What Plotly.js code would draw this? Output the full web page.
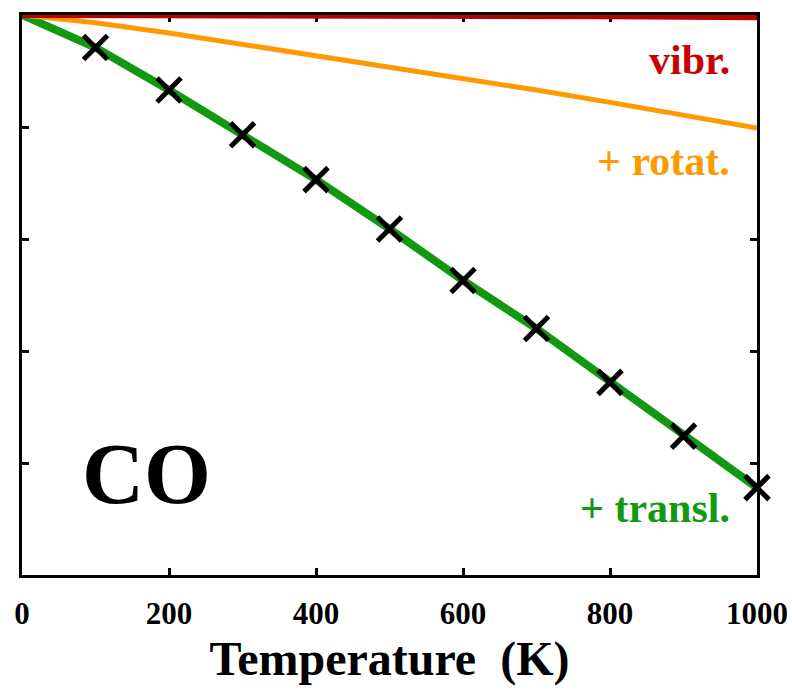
<!DOCTYPE html>
<html>
<head>
<meta charset="utf-8">
<script src="https://cdn.plot.ly/plotly-3.0.1.min.js"></script>
<style>html,body{margin:0;padding:0;background:#fff;}#chart{width:792px;height:693px;}</style>
</head>
<body>
<div id="chart"></div>
<script>
// Temperature (K)
var temps = [0, 100, 200, 300, 400, 500, 600, 700, 800, 900, 1000];
// vibrational contribution (arbitrary units, top of axis = 0)
var vibr = [0, 0, 0, 0, -0.001, -0.002, -0.004, -0.007, -0.011, -0.015, -0.02];
// vibrational + rotational
var rotat = [0, -0.07, -0.16, -0.26, -0.36, -0.46, -0.56, -0.67, -0.78, -0.89, -1.01];
// vibrational + rotational + translational
var transl = [0, -0.29, -0.67, -1.07, -1.47, -1.91, -2.37, -2.80, -3.28, -3.76, -4.22];
// marker points (computed/reference values)
var markT = [100, 200, 300, 400, 500, 600, 700, 800, 900, 1000];
var markV = [-0.29, -0.67, -1.07, -1.47, -1.91, -2.37, -2.80, -3.28, -3.76, -4.22];
var xTicks = [0, 200, 400, 600, 800, 1000];
var yTicks = [-4, -3, -2, -1];

var serif = '"Liberation Serif", "DejaVu Serif", serif';

var traces = [
  {x: temps, y: transl, mode: 'lines', line: {color: '#119911', width: 8}, hoverinfo: 'skip'},
  {x: temps, y: rotat, mode: 'lines', line: {color: '#ff9900', width: 5}, hoverinfo: 'skip'},
  {x: temps, y: vibr, mode: 'lines', line: {color: '#bb0000', width: 6}, hoverinfo: 'skip', cliponaxis: false},
  {x: markT, y: markV, mode: 'markers', cliponaxis: false,
   marker: {symbol: 'x-thin', size: 24, color: '#000', line: {color: '#000', width: 5}}, hoverinfo: 'skip'}
];

var layout = {
  width: 792, height: 693,
  margin: {l: 22, r: 35, t: 15, b: 118},
  paper_bgcolor: '#fff', plot_bgcolor: '#fff',
  showlegend: false,
  xaxis: {
    range: [0, 1000], tickvals: xTicks, ticktext: xTicks.map(String),
    ticks: 'inside', ticklen: 7, tickwidth: 3, tickcolor: '#000',
    showline: true, linewidth: 3, linecolor: '#000', mirror: 'ticks',
    showgrid: false, zeroline: false, layer: 'below traces',
    tickfont: {family: serif, size: 31, color: '#000', weight: 'bold'},
    ticklabelstandoff: 9,
    title: {text: 'Temperature\u00a0\u00a0(K)', font: {family: serif, size: 48, color: '#000', weight: 'bold'}, standoff: 12}
  },
  yaxis: {
    range: [-5, 0], tickvals: yTicks, showticklabels: false,
    ticks: 'inside', ticklen: 7, tickwidth: 3, tickcolor: '#000',
    showline: true, linewidth: 3, linecolor: '#000', mirror: 'ticks',
    showgrid: false, zeroline: false, layer: 'below traces'
  },
  annotations: [
    {x: 966, y: -0.40, xref: 'x', yref: 'y', xanchor: 'right', yanchor: 'middle', showarrow: false,
     text: 'vibr.', font: {family: serif, size: 42, color: '#cc0000', weight: 'bold'}},
    {x: 966, y: -1.30, xref: 'x', yref: 'y', xanchor: 'right', yanchor: 'middle', showarrow: false,
     text: '+ rotat.', font: {family: serif, size: 42, color: '#ff9900', weight: 'bold'}},
    {x: 966, y: -4.40, xref: 'x', yref: 'y', xanchor: 'right', yanchor: 'middle', showarrow: false,
     text: '+ transl.', font: {family: serif, size: 42, color: '#119911', weight: 'bold'}},
    {x: 170, y: -4.10, xref: 'x', yref: 'y', xanchor: 'center', yanchor: 'middle', showarrow: false,
     text: 'CO', font: {family: serif, size: 86, color: '#000', weight: 'bold'}}
  ]
};

Plotly.newPlot('chart', traces, layout, {displayModeBar: false, staticPlot: true});
</script>
</body>
</html>
